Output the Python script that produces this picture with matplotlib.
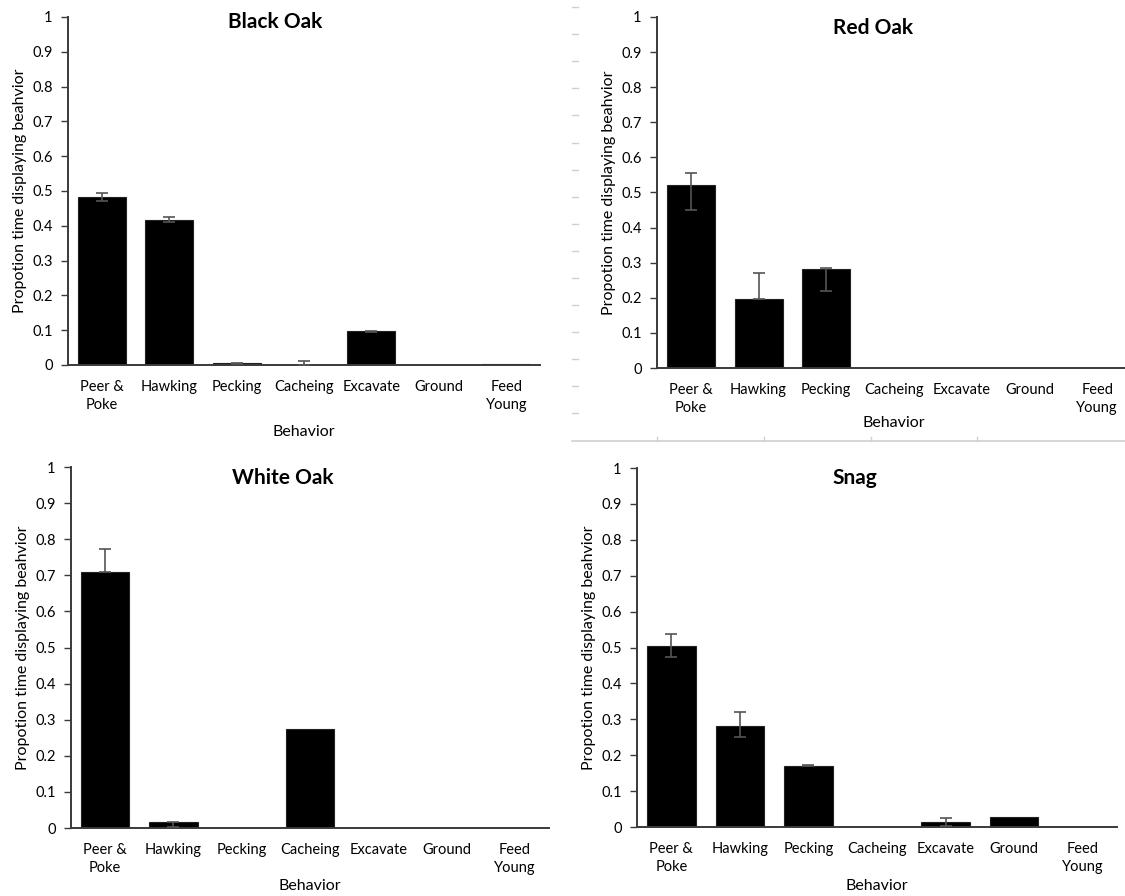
import matplotlib
matplotlib.use("Agg")
import matplotlib.pyplot as plt
from matplotlib.lines import Line2D
import numpy as np

plt.rcParams['font.family'] = ['Lato', 'DejaVu Sans']

behaviors = ["Peer &\nPoke", "Hawking", "Pecking", "Cacheing", "Excavate", "Ground", "Feed\nYoung"]
y_ticks = [0, 0.1, 0.2, 0.3, 0.4, 0.5, 0.6, 0.7, 0.8, 0.9, 1]
y_tick_labels = ["0", "0.1", "0.2", "0.3", "0.4", "0.5", "0.6", "0.7", "0.8", "0.9", "1"]

black_oak = [0.482, 0.418, 0.005, 0.0, 0.098, 0.0, 0.004]
black_oak_lo = [0.012, 0.008, 0.002, 0.0, 0.004, 0.0, 0.0]
black_oak_hi = [0.012, 0.008, 0.002, 0.011, 0.0, 0.0, 0.0]

red_oak = [0.522, 0.197, 0.282, 0.0, 0.0, 0.0, 0.0]
red_oak_lo = [0.072, 0.0, 0.062, 0.0, 0.0, 0.0, 0.0]
red_oak_hi = [0.033, 0.075, 0.003, 0.0, 0.0, 0.0, 0.0]

white_oak = [0.71, 0.016, 0.0, 0.273, 0.0, 0.0, 0.0]
white_oak_lo = [0.0, 0.012, 0.0, 0.0, 0.0, 0.0, 0.0]
white_oak_hi = [0.062, 0.0, 0.0, 0.0, 0.0, 0.0, 0.0]

snag = [0.505, 0.282, 0.171, 0.0, 0.013, 0.028, 0.0]
snag_lo = [0.032, 0.031, 0.001, 0.0, 0.009, 0.0, 0.0]
snag_hi = [0.032, 0.038, 0.001, 0.0, 0.011, 0.0, 0.0]

W, H = 1125, 896
fig = plt.figure(figsize=(W / 100, H / 100), dpi=100)

def px_axes(left, right, y0, y1):
    return fig.add_axes([left / W, 1 - y0 / H, (right - left) / W, (y0 - y1) / H])

panels = [
    dict(title="Black Oak", vals=black_oak, lo=black_oak_lo, hi=black_oak_hi,
         box=(68, 540, 365, 17), title_xy=(0.439, 0.986), xlab_y=-0.172),
    dict(title="Red Oak", vals=red_oak, lo=red_oak_lo, hi=red_oak_hi,
         box=(657, 1131, 368, 17), title_xy=(0.456, 0.969), xlab_y=-0.137),
    dict(title="White Oak", vals=white_oak, lo=white_oak_lo, hi=white_oak_hi,
         box=(71, 549, 828, 467), title_xy=(0.444, 0.970), xlab_y=-0.141),
    dict(title="Snag", vals=snag, lo=snag_lo, hi=snag_hi,
         box=(637, 1117, 827, 468), title_xy=(0.454, 0.972), xlab_y=-0.145),
]

spine_col = "#3a3a3a"
for p in panels:
    ax = px_axes(*p["box"])
    x = np.arange(len(behaviors))
    vals = np.array(p["vals"])
    lo = np.array(p["lo"])
    hi = np.array(p["hi"])
    ax.bar(x, vals, width=0.71, color="black", edgecolor="#222222", linewidth=0.8, zorder=2)
    m = (lo > 0) | (hi > 0)
    ax.errorbar(x[m], vals[m], yerr=[lo[m], hi[m]], fmt="none", ecolor="#555555",
                elinewidth=1.2, capsize=4.5, capthick=1.2, zorder=3)
    ax.set_xlim(-0.5, 6.5)
    ax.set_ylim(0, 1)
    ax.set_yticks(y_ticks)
    ax.set_yticklabels(y_tick_labels)
    ax.set_xticks(x)
    ax.set_xticklabels(behaviors, linespacing=1.3)
    ax.tick_params(axis="x", length=0, pad=11, labelsize=10.5)
    ax.tick_params(axis="y", direction="out", length=5, width=1, color=spine_col,
                   pad=6, labelsize=10.5)
    for s in ["top", "right"]:
        ax.spines[s].set_visible(False)
    for s in ["left", "bottom"]:
        ax.spines[s].set_color(spine_col)
        ax.spines[s].set_linewidth(1.4)
    ax.set_ylabel("Propotion time displaying beahvior", fontsize=11.5, labelpad=4)
    ax.set_xlabel("Behavior", fontsize=11.5)
    ax.xaxis.set_label_coords(0.5, p["xlab_y"])
    ax.text(p["title_xy"][0], p["title_xy"][1], p["title"], transform=ax.transAxes,
            ha="center", va="center", fontsize=15, fontweight="bold")

# faint residual guide lines visible in the reference image
art_col = "#d0d0d0"
fig.add_artist(Line2D([572 / W, 1.0], [1 - 441 / H, 1 - 441 / H], color=art_col, lw=1.2))
for tx in [657, 764, 871, 977]:
    fig.add_artist(Line2D([tx / W, tx / W], [1 - 441 / H, 1 - 437 / H], color=art_col, lw=1))
for ty in [7, 34, 61, 88, 115, 143, 170, 197, 224, 251, 278, 305, 332, 359, 386, 413]:
    fig.add_artist(Line2D([572 / W, 578 / W], [1 - ty / H, 1 - ty / H], color=art_col, lw=1))

fig.savefig("out.png", dpi=100)
